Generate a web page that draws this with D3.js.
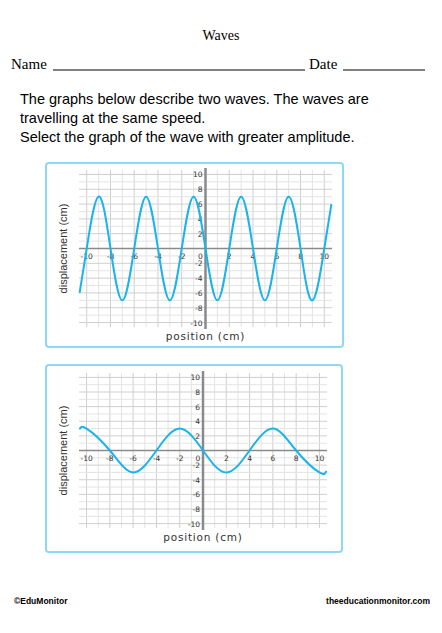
<!DOCTYPE html>
<html><head><meta charset="utf-8">
<script src="https://cdn.jsdelivr.net/npm/d3@7"></script>
<style>body{margin:0;background:#fff}</style>
</head><body>
<svg width="442" height="633"></svg>
<script>
// wave 1: peaks, troughs and zero crossings
const wave1X = [-10.6,-10,-9,-8,-7,-6,-5,-4,-3,-2,-1,0,1,2,3,4,5,6,7,8,9,10,10.6];
const wave1Y = [-6,0,7,0,-7,0,7,0,-7,0,7,0,-7,0,7,0,-7,0,7,0,-7,0,6];
// wave 2
const wave2X = [-10.6,-10,-8,-6,-4,-2,0,2,4,6,8,10,10.6];
const wave2Y = [2.9,3,0,-3,0,3,0,-3,0,3,0,-3,-2.8];
const xTicks = [-10,-8,-6,-4,-2,0,2,4,6,8,10];
const yTicks = [-10,-8,-6,-4,-2,2,4,6,8,10];

const svg = d3.select('svg');

svg.append('text').attr('x',221).attr('y',40).attr('text-anchor','middle')
   .style('font-family','Liberation Serif').style('font-size','14px').text('Waves');
svg.append('text').attr('x',11).attr('y',69)
   .style('font-family','Liberation Serif').style('font-size','15px').text('Name');
svg.append('line').attr('x1',53).attr('x2',305).attr('y1',70).attr('y2',70).attr('stroke','#000');
svg.append('text').attr('x',309).attr('y',69)
   .style('font-family','Liberation Serif').style('font-size','15px').text('Date');
svg.append('line').attr('x1',343).attr('x2',425).attr('y1',70).attr('y2',70).attr('stroke','#000');

const para = ['The graphs below describe two waves. The waves are','travelling at the same speed.','Select the graph of the wave with greater amplitude.'];
svg.selectAll('.para').data(para).join('text')
   .attr('x',20).attr('y',(d,i)=>104+i*19)
   .style('font-family','Liberation Sans').style('font-size','14.5px').text(d=>d);

svg.append('text').attr('x',14).attr('y',604).style('font-family','Liberation Sans')
   .style('font-size','8.5px').style('font-weight','bold').text('©EduMonitor');
svg.append('text').attr('x',430).attr('y',604).attr('text-anchor','end').style('font-family','Liberation Sans')
   .style('font-size','8.5px').style('font-weight','bold').text('theeducationmonitor.com');

function drawGraph(box, plot, xs, ys){
  const g = svg.append('g');
  g.append('rect').attr('x',box.x).attr('y',box.y).attr('width',box.w).attr('height',box.h)
   .attr('rx',3).attr('fill','#fff').attr('stroke','#8fd8f5').attr('stroke-width',2);
  const x = d3.scaleLinear().domain([-10.65,10.65]).range([plot.x0,plot.x1]);
  const y = d3.scaleLinear().domain([-10.6,10.6]).range([plot.y1,plot.y0]);
  const grid = d3.range(-10,11);
  g.selectAll('.vg').data(grid).join('line')
   .attr('x1',d=>x(d)).attr('x2',d=>x(d)).attr('y1',plot.y0).attr('y2',plot.y1)
   .attr('stroke',d=>d%2===0?'#cfcfcf':'#e4e4e4').attr('stroke-width',1);
  g.selectAll('.hg').data(grid).join('line')
   .attr('y1',d=>y(d)).attr('y2',d=>y(d)).attr('x1',plot.x0).attr('x2',plot.x1)
   .attr('stroke',d=>d%2===0?'#cfcfcf':'#e4e4e4').attr('stroke-width',1);
  g.append('line').attr('x1',plot.x0).attr('x2',plot.x1).attr('y1',y(0)).attr('y2',y(0))
   .attr('stroke','#8a8a8a').attr('stroke-width',1.5);
  g.append('line').attr('x1',x(0)).attr('x2',x(0)).attr('y1',plot.y0-2).attr('y2',plot.y1+2)
   .attr('stroke','#8a8a8a').attr('stroke-width',2.5);
  g.selectAll('.xt').data(xTicks).join('text')
   .attr('x',d=>d===0?x(d)-5:x(d)).attr('y',y(0)+10).attr('text-anchor','middle')
   .style('font-family','DejaVu Sans').style('font-size','7.5px').attr('fill','#333')
   .text(d=>d);
  g.selectAll('.yt').data(yTicks).join('text')
   .attr('x',x(0)-3).attr('y',d=>y(d)+3).attr('text-anchor','end')
   .style('font-family','DejaVu Sans').style('font-size','7.5px').attr('fill','#333')
   .text(d=>d);
  const pts = xs.map((v,i)=>[v,ys[i]]);
  g.append('path').datum(pts)
   .attr('d',d3.line().x(d=>x(d[0])).y(d=>y(d[1])).curve(d3.curveNatural))
   .attr('fill','none').attr('stroke','#1ab4ea').attr('stroke-width',2);
  g.append('text').attr('transform',`translate(${box.x+21},${(plot.y0+plot.y1)/2}) rotate(-90)`)
   .attr('text-anchor','middle').style('font-family','Liberation Sans').style('font-size','11px')
   .attr('fill','#333').text('displacement (cm)');
  g.append('text').attr('x',(plot.x0+plot.x1)/2).attr('y',plot.y1+13).attr('text-anchor','middle')
   .style('font-family','DejaVu Sans').style('font-size','10.5px').style('letter-spacing','0.8px')
   .attr('fill','#333').text('position (cm)');
}

drawGraph({x:46,y:163,w:297,h:184},{x0:79,x1:332,y0:170,y1:327},wave1X,wave1Y);
drawGraph({x:46,y:365,w:296,h:187},{x0:79,x1:327,y0:373,y1:528},wave2X,wave2Y);
</script>
</body></html>
